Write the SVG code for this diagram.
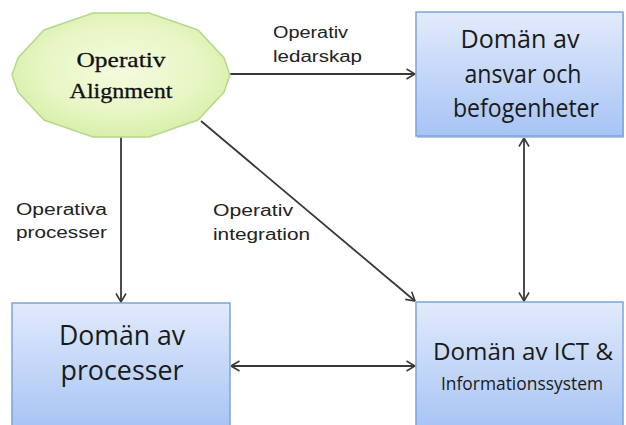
<svg xmlns="http://www.w3.org/2000/svg" width="626" height="425" viewBox="0 0 626 425">
  <defs>
    <linearGradient id="gBlue" x1="0" y1="0" x2="0" y2="1">
      <stop offset="0" stop-color="#e2ebfb"/>
      <stop offset="1" stop-color="#a7c4f5"/>
    </linearGradient>
    <linearGradient id="gBlueTall" gradientUnits="userSpaceOnUse" x1="0" y1="300" x2="0" y2="430">
      <stop offset="0" stop-color="#e2ebfb"/>
      <stop offset="1" stop-color="#a7c4f5"/>
    </linearGradient>
    <radialGradient id="gGreen" cx="0.5" cy="0.45" r="0.6">
      <stop offset="0" stop-color="#f4fbdf"/>
      <stop offset="0.6" stop-color="#e8f6c4"/>
      <stop offset="1" stop-color="#d4eda4"/>
    </radialGradient>
    <marker id="arr" viewBox="0 0 10 12" refX="9.5" refY="6" markerWidth="10" markerHeight="12" markerUnits="userSpaceOnUse" orient="auto-start-reverse">
      <path d="M1,1 L9.5,6 L1,11" fill="none" stroke="#3a3a3a" stroke-width="1.6"/>
    </marker>
  </defs>
  <style>
    .box { stroke: #7fa4da; stroke-width: 1.5; }
    .lbl { font-family: "Liberation Sans", Arial, sans-serif; font-size: 16px; fill: #222; }
    .btxt { font-family: "Open Sans", "Noto Sans", sans-serif; fill: #1a1a1a; text-anchor: middle; }
    .serif { font-family: "Liberation Serif", "Times New Roman", serif; font-size: 22px; fill: #111; text-anchor: middle; stroke: #111; stroke-width: 0.3; }
    .conn { stroke: #383838; stroke-width: 1.8; fill: none; }
  </style>

  <rect width="626" height="425" fill="#ffffff"/>

  <!-- connectors -->
  <g id="connectors">
    <line class="conn" x1="230" y1="74" x2="415" y2="74" marker-end="url(#arr)"/>
    <line class="conn" x1="121" y1="137" x2="121" y2="302" marker-end="url(#arr)"/>
    <line class="conn" x1="201" y1="121" x2="415" y2="301" marker-end="url(#arr)"/>
    <line class="conn" x1="524" y1="138" x2="524" y2="301" marker-start="url(#arr)" marker-end="url(#arr)"/>
    <line class="conn" x1="231" y1="366" x2="415" y2="366" marker-start="url(#arr)" marker-end="url(#arr)"/>
  </g>

  <!-- connector labels -->
  <g id="labels">
    <text class="lbl" x="273" y="38" textLength="75" lengthAdjust="spacingAndGlyphs">Operativ</text>
    <text class="lbl" x="273" y="62" textLength="89" lengthAdjust="spacingAndGlyphs">ledarskap</text>
    <text class="lbl" x="16" y="215" textLength="91" lengthAdjust="spacingAndGlyphs">Operativa</text>
    <text class="lbl" x="16" y="238" textLength="91" lengthAdjust="spacingAndGlyphs">processer</text>
    <text class="lbl" x="213" y="216" textLength="80" lengthAdjust="spacingAndGlyphs">Operativ</text>
    <text class="lbl" x="213" y="240" textLength="97" lengthAdjust="spacingAndGlyphs">integration</text>
  </g>

  <!-- alignment node -->
  <g id="operativ-alignment">
    <polygon points="93,13 149,13 198,30 224,58 230,75 224,92 198,120 149,137 93,137 44,120 18,92 12,75 18,58 44,30"
             fill="url(#gGreen)" stroke="#b7d88c" stroke-width="1.5"/>
    <text class="serif" x="121" y="67" textLength="89" lengthAdjust="spacingAndGlyphs">Operativ</text>
    <text class="serif" x="121" y="98" textLength="103" lengthAdjust="spacingAndGlyphs">Alignment</text>
  </g>

  <!-- responsibility domain -->
  <g id="domain-responsibility">
    <rect x="417" y="14" width="207" height="124" fill="#7f9fcf" opacity="0.6"/>
    <rect class="box" x="416" y="12" width="207" height="124" fill="url(#gBlue)"/>
    <text class="btxt" x="520" y="48" font-size="25" textLength="119" lengthAdjust="spacingAndGlyphs">Domän av</text>
    <text class="btxt" x="523" y="83" font-size="25" textLength="117" lengthAdjust="spacingAndGlyphs">ansvar och</text>
    <text class="btxt" x="526" y="117" font-size="25" textLength="146" lengthAdjust="spacingAndGlyphs">befogenheter</text>
  </g>

  <!-- process domain -->
  <g id="domain-processes">
    <rect class="box" x="12" y="303" width="218" height="130" fill="url(#gBlueTall)"/>
    <text class="btxt" x="122" y="345" font-size="28" textLength="126" lengthAdjust="spacingAndGlyphs">Domän av</text>
    <text class="btxt" x="122" y="380" font-size="28" textLength="123" lengthAdjust="spacingAndGlyphs">processer</text>
  </g>

  <!-- ICT domain -->
  <g id="domain-ict">
    <rect class="box" x="416" y="302" width="207" height="131" fill="url(#gBlueTall)"/>
    <text class="btxt" x="523" y="360" font-size="24" textLength="180" lengthAdjust="spacingAndGlyphs">Domän av ICT &amp;</text>
    <text class="btxt" x="522" y="390" font-size="18" textLength="162" lengthAdjust="spacingAndGlyphs">Informationssystem</text>
  </g>
</svg>
